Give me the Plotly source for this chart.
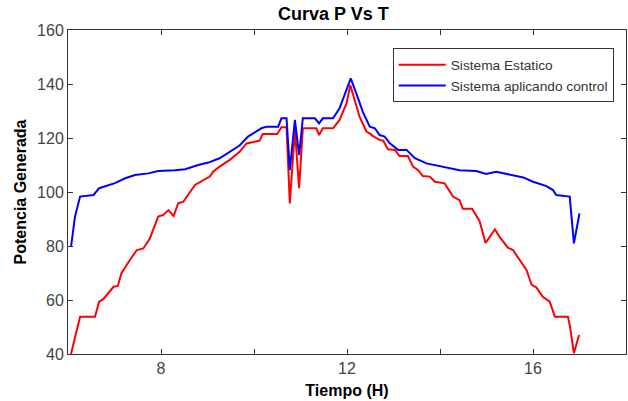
import plotly.graph_objects as go

# Red series: Sistema Estatico
hours_estatico = [6.065, 6.26, 6.58, 6.67, 6.76, 6.98, 7.07, 7.15, 7.33, 7.48, 7.62, 7.76, 7.94,
                  8.05, 8.16, 8.27, 8.37, 8.48, 8.73, 8.83, 9.05, 9.12, 9.26, 9.48, 9.62, 9.69,
                  9.84, 9.91, 10.12, 10.19, 10.50, 10.59, 10.70, 10.77, 10.88, 10.97, 11.05,
                  11.34, 11.40, 11.48, 11.70, 11.84, 11.99, 12.07, 12.14, 12.27, 12.42, 12.49,
                  12.56, 12.70, 12.78, 12.88, 13.03, 13.13, 13.31, 13.42, 13.53, 13.63, 13.78,
                  13.89, 14.10, 14.28, 14.42, 14.49, 14.69, 14.85, 14.98, 15.18, 15.28, 15.46,
                  15.57, 15.71, 15.86, 15.97, 16.07, 16.21, 16.36, 16.47, 16.75, 16.79, 16.88,
                  16.99]
power_estatico = [40.0, 53.8, 53.8, 59.4, 60.3, 64.9, 65.2, 69.9, 74.8, 78.5, 79.1, 82.8, 90.9,
                  91.5, 93.3, 91.1, 95.8, 96.4, 102.6, 103.5, 105.7, 107.5, 109.4, 111.9, 113.7,
                  114.9, 118.0, 118.3, 119.0, 121.5, 121.5, 124.0, 124.0, 95.8, 123.0, 101.4,
                  123.6, 123.6, 121.1, 123.6, 123.6, 126.7, 132.8, 139.6, 135.3, 127.9, 122.3,
                  121.7, 120.7, 119.3, 119.0, 115.8, 115.6, 113.3, 113.3, 109.4, 108.1, 105.9,
                  105.7, 103.8, 103.2, 98.3, 97.0, 93.8, 93.8, 89.3, 81.1, 86.2, 83.4, 79.4,
                  78.5, 75.0, 71.1, 65.6, 64.7, 61.2, 59.4, 53.8, 53.8, 50.7, 40.3, 47.0]

# Blue series: Sistema aplicando control
hours_control = [6.065, 6.15, 6.26, 6.55, 6.67, 6.80, 7.01, 7.23, 7.44, 7.73, 7.94, 8.30, 8.52,
                 8.80, 9.02, 9.26, 9.48, 9.69, 9.87, 10.16, 10.27, 10.52, 10.59, 10.70, 10.77,
                 10.88, 10.97, 11.05, 11.31, 11.40, 11.48, 11.70, 11.84, 11.99, 12.08, 12.20,
                 12.34, 12.49, 12.60, 12.70, 12.81, 12.92, 13.10, 13.28, 13.46, 13.71, 13.99,
                 14.42, 14.78, 14.99, 15.21, 15.57, 15.79, 16.00, 16.29, 16.43, 16.50, 16.79,
                 16.88, 17.00]
power_control = [79.7, 90.9, 98.3, 98.9, 101.4, 102.2, 103.3, 105.1, 106.3, 106.9, 107.8, 108.1,
                 108.4, 110.0, 110.9, 112.5, 114.9, 117.2, 120.5, 123.6, 124.2, 124.2, 127.3,
                 127.3, 108.1, 126.7, 113.7, 127.3, 127.3, 125.4, 127.3, 127.3, 131.0, 137.8,
                 142.1, 136.5, 129.7, 124.2, 123.6, 121.1, 120.5, 118.0, 115.6, 115.6, 112.5,
                 110.6, 109.6, 108.1, 107.8, 106.7, 107.5, 106.3, 105.4, 103.8, 102.2, 100.7,
                 98.9, 98.3, 81.0, 92.1]

x_tickvals = [6, 8, 10, 12, 14, 16, 18]
x_ticktext = ["", "8", "", "12", "", "16", ""]
y_tickvals = [40, 60, 80, 100, 120, 140, 160]

FONT = "Liberation Sans, Arial, sans-serif"

fig = go.Figure()
fig.add_trace(go.Scatter(x=hours_estatico, y=power_estatico, mode="lines",
                         name="Sistema Estatico", line=dict(color="#ff0000", width=2)))
fig.add_trace(go.Scatter(x=hours_control, y=power_control, mode="lines",
                         name="Sistema aplicando control", line=dict(color="#0000ff", width=2)))

axis_common = dict(showgrid=False, zeroline=False, showline=True, linecolor="#333333",
                   linewidth=1, mirror="ticks", ticks="inside", ticklen=5, tickcolor="#333333",
                   tickfont=dict(family=FONT, size=16, color="#444444"))

fig.update_layout(
    width=628, height=401,
    paper_bgcolor="white", plot_bgcolor="white",
    margin=dict(l=68, r=2, t=30, b=47),
    font=dict(family=FONT),
    title=dict(text="<b>Curva P Vs T</b>", x=0.531, xref="container", xanchor="center",
               y=0.965, yref="container", yanchor="middle",
               font=dict(family=FONT, size=18, color="#000000")),
    xaxis=dict(range=[6, 18], tickvals=x_tickvals, ticktext=x_ticktext,
               title=dict(text="<b>Tiempo (H)</b>", standoff=8,
                          font=dict(family=FONT, size=16, color="#000000")),
               **axis_common),
    yaxis=dict(range=[40, 160], tickvals=y_tickvals,
               title=dict(text="<b>Potencia Generada</b>", standoff=6,
                          font=dict(family=FONT, size=16, color="#000000")),
               **axis_common),
    legend=dict(x=0.978, y=0.9435, xanchor="right", yanchor="top",
                bgcolor="white", bordercolor="#333333", borderwidth=1,
                font=dict(family=FONT, size=13.7, color="#333333"),
                itemwidth=47, tracegroupgap=0),
    showlegend=True,
)

fig.write_html("out.html", config={"displayModeBar": False},
               post_script="document.body.style.margin='0';")
